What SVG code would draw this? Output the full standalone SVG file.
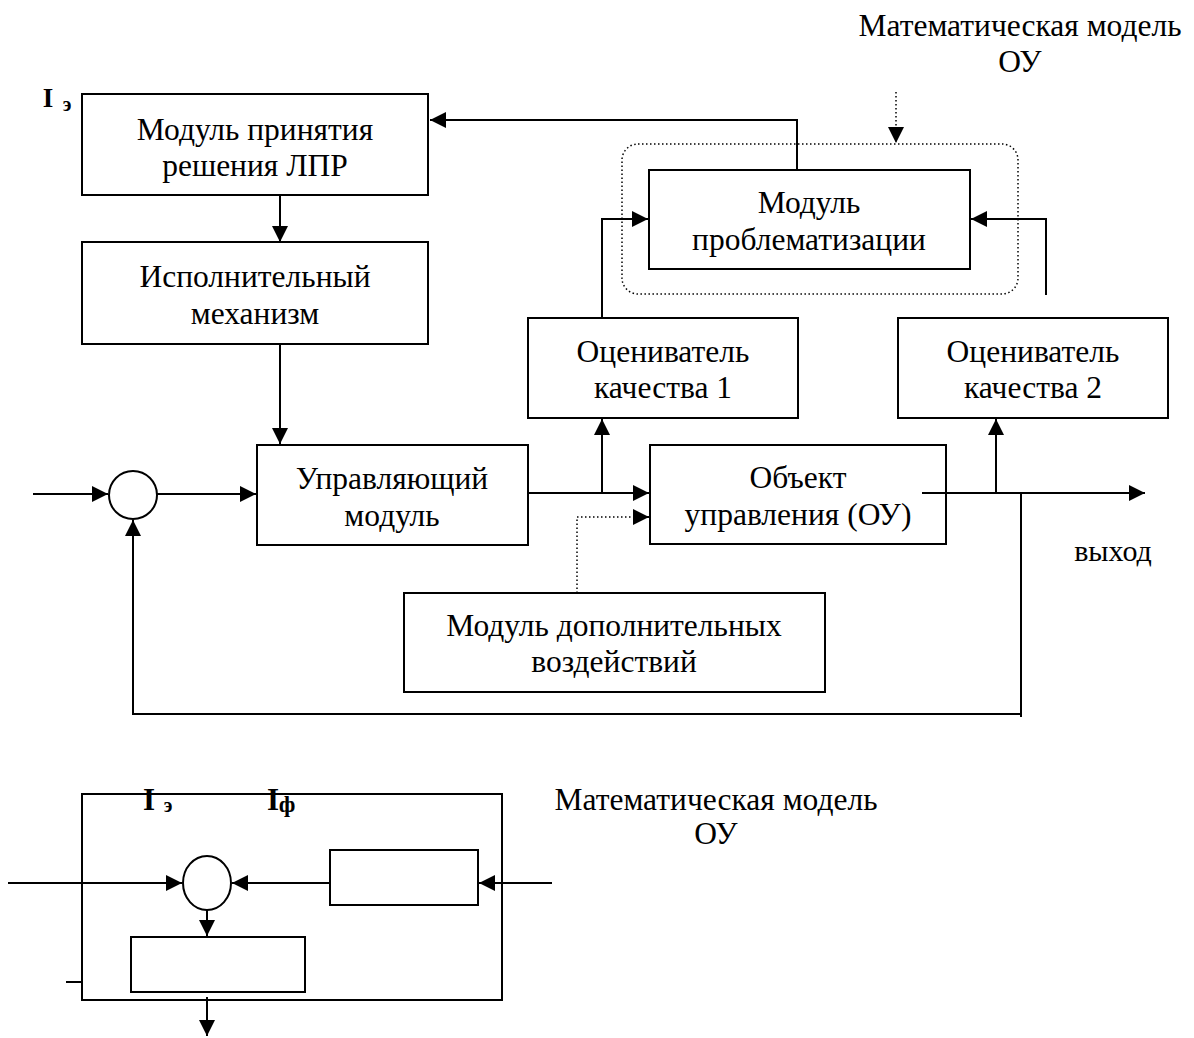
<svg xmlns="http://www.w3.org/2000/svg" width="1194" height="1038" viewBox="0 0 1194 1038">
<defs>
<marker id="ah" viewBox="0 0 10 10" refX="10" refY="5" markerWidth="16" markerHeight="16" markerUnits="userSpaceOnUse" orient="auto">
<path d="M0,0 L10,5 L0,10 z" fill="#000"/>
</marker>
</defs>
<style>
.b{fill:#fff;stroke:#000;stroke-width:2}
.l{fill:none;stroke:#000;stroke-width:2}
.d{fill:none;stroke:#000;stroke-width:1.5;stroke-dasharray:1.5 2.5}
text{font-family:"Liberation Serif","Times New Roman",serif;font-size:31.5px;fill:#000;text-anchor:middle}
.bold{font-weight:bold}
</style>
<rect width="1194" height="1038" fill="#fff"/>
<g id="n-lpr"><rect class="b" x="82" y="94" width="346" height="101"/><text x="255" y="140">Модуль принятия</text><text x="255" y="176">решения ЛПР</text></g>
<g id="n-ie"><text class="bold" x="48" y="107" style="font-size:27px">I</text><text class="bold" x="67" y="111" style="font-size:20px">э</text></g>
<g id="n-isp"><rect class="b" x="82" y="242" width="346" height="102"/><text x="255" y="287">Исполнительный</text><text x="255" y="324">механизм</text></g>
<g id="n-mm1"><text x="1020" y="36">Математическая модель</text><text x="1020" y="72">ОУ</text></g>
<g id="n-dotted"><rect class="d" x="622" y="144" width="396" height="150" rx="16" ry="16"/></g>
<g id="n-probl"><rect class="b" x="649" y="170" width="321" height="99"/><text x="809" y="213">Модуль</text><text x="809" y="250">проблематизации</text></g>
<g id="n-oc1"><rect class="b" x="528" y="318" width="270" height="100"/><text x="663" y="362">Оцениватель</text><text x="663" y="398">качества 1</text></g>
<g id="n-oc2"><rect class="b" x="898" y="318" width="270" height="100"/><text x="1033" y="362">Оцениватель</text><text x="1033" y="398">качества 2</text></g>
<g id="n-sum"><circle class="b" cx="133" cy="495" r="24"/></g>
<g id="n-upr"><rect class="b" x="257" y="445" width="271" height="100"/><text x="392" y="489">Управляющий</text><text x="392" y="526">модуль</text></g>
<g id="n-obj"><rect class="b" x="650" y="445" width="296" height="99"/><text x="798" y="488">Объект</text><text x="798" y="525">управления (ОУ)</text></g>
<g id="n-out"><text x="1113" y="561" style="font-size:30px">выход</text></g>
<g id="n-dop"><rect class="b" x="404" y="593" width="421" height="99"/><text x="614" y="636">Модуль дополнительных</text><text x="614" y="672">воздействий</text></g>
<g id="connectors">
<line class="l" x1="280" y1="195" x2="280" y2="242" marker-end="url(#ah)"/>
<line class="l" x1="280" y1="344" x2="280" y2="444" marker-end="url(#ah)"/>
<polyline class="l" points="797,170 797,120 430,120" marker-end="url(#ah)"/>
<line class="d" x1="896" y1="92" x2="896" y2="143" marker-end="url(#ah)"/>
<polyline class="l" points="602,318 602,219 648,219" marker-end="url(#ah)"/>
<polyline class="l" points="1046,295 1046,219 971,219" marker-end="url(#ah)"/>
<line class="l" x1="33" y1="494" x2="108" y2="494" marker-end="url(#ah)"/>
<line class="l" x1="157" y1="494" x2="256" y2="494" marker-end="url(#ah)"/>
<line class="l" x1="528" y1="493" x2="649" y2="493" marker-end="url(#ah)"/>
<line class="l" x1="602" y1="493" x2="602" y2="419" marker-end="url(#ah)"/>
<polyline class="d" points="577,593 577,517 640,517"/>
<line class="l" x1="636" y1="517" x2="649" y2="517" marker-end="url(#ah)"/>
<line class="l" x1="922" y1="493" x2="1145" y2="493" marker-end="url(#ah)"/>
<line class="l" x1="996" y1="493" x2="996" y2="419" marker-end="url(#ah)"/>
<polyline class="l" points="1021,493 1021,717"/>
<polyline class="l" points="1021,714 133,714 133,520" marker-end="url(#ah)"/>
</g>
<g id="bottom">
<rect class="l" x="82" y="794" width="420" height="206"/>
<text class="bold" x="149" y="810" style="font-size:31px">I</text><text class="bold" x="168" y="812" style="font-size:20px">э</text>
<text class="bold" x="273" y="810" style="font-size:31px">I</text><text class="bold" x="287" y="812" style="font-size:24px">ф</text>
<ellipse class="b" cx="207" cy="883" rx="24" ry="27"/>
<rect class="b" x="330" y="850" width="148" height="55"/>
<rect class="b" x="131" y="937" width="174" height="55"/>
<line class="l" x1="8" y1="883" x2="182" y2="883" marker-end="url(#ah)"/>
<line class="l" x1="330" y1="883" x2="232" y2="883" marker-end="url(#ah)"/>
<line class="l" x1="552" y1="883" x2="479" y2="883" marker-end="url(#ah)"/>
<line class="l" x1="207" y1="910" x2="207" y2="936" marker-end="url(#ah)"/>
<line class="l" x1="207" y1="997" x2="207" y2="1036" marker-end="url(#ah)"/>
<line class="l" x1="66" y1="982" x2="82" y2="982"/>
<text x="716" y="810">Математическая модель</text><text x="716" y="844">ОУ</text>
</g>
</svg>
